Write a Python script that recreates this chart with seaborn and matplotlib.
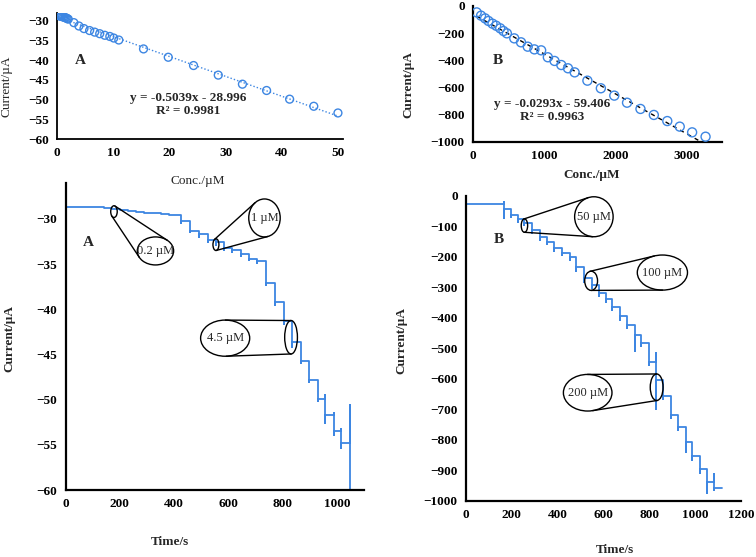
import numpy as np
import matplotlib
matplotlib.use("Agg")
import matplotlib.pyplot as plt
from matplotlib.patches import Ellipse
import seaborn as sns

# ---------- DATA ----------
# calibration A (top left)
conc_a = [0.2, 0.4, 0.6, 0.8, 1.0, 1.2, 1.4, 1.6, 1.8, 2.0,
          3.0, 3.9, 4.8, 5.8, 6.7, 7.6, 8.5, 9.4, 10.1, 11.0,
          15.4, 19.8, 24.3, 28.7, 33.0, 37.3, 41.4, 45.7, 50.0]
current_a = [-28.65, -28.75, -28.85, -28.9, -29.0, -29.1, -29.2, -29.3, -29.45, -29.6,
             -30.5, -31.35, -32.0, -32.5, -32.9, -33.3, -33.7, -34.0, -34.4, -34.9,
             -37.16, -39.27, -41.37, -43.8, -46.1, -47.7, -49.9, -51.7, -53.4]
fit_a = (-0.5039, -28.996)
eq_a = ["y = -0.5039x - 28.996", "R² = 0.9981"]

# calibration B (top right)
conc_b = [52, 113, 170, 217, 274, 325, 382, 429, 476, 580, 675, 769, 863, 958, 1052,
          1146, 1241, 1335, 1429, 1608, 1797, 1986, 2165, 2354, 2542, 2731, 2906, 3080, 3269]
current_b = [-47, -71, -91, -110, -130, -145, -164, -184, -201, -238, -267, -299, -319, -326,
             -377, -404, -434, -458, -488, -549, -605, -659, -711, -757, -801, -846, -887,
             -929, -961]
fit_b = (-0.293, -59.406)
eq_b = ["y = -0.0293x - 59.406", "R² = 0.9963"]

# amperometric trace A (bottom left): step times, levels, transient extremes
a_start = -28.65
a_step_t = [110, 140, 170, 200, 230, 260, 290, 320, 350, 380,
            425, 459, 493, 523, 554, 585, 615, 646, 676, 707,
            740, 772, 804, 835, 866, 897, 929, 958, 990, 1017, 1048]
a_level = [-28.73, -28.83, -28.92, -29.0, -29.1, -29.2, -29.3, -29.4, -29.5, -29.6,
           -30.25, -31.3, -31.7, -32.3, -32.6, -33.2, -33.5, -33.9, -34.4, -34.66,
           -37.05, -39.25, -41.3, -43.65, -45.7, -47.8, -49.9, -51.7, -53.5, -54.85, -60.0]
a_hi = [-28.73, -28.83, -28.92, -29.0, -29.1, -29.2, -29.3, -29.4, -29.5, -29.6,
        -29.6, -30.25, -31.3, -31.7, -32.3, -32.6, -33.2, -33.5, -33.9, -34.4,
        -34.66, -37.05, -39.25, -41.3, -43.65, -45.7, -47.8, -49.5, -51.5, -53.2, -50.6]
a_lo = [-28.73, -28.83, -28.92, -29.0, -29.1, -29.2, -29.3, -29.4, -29.5, -29.6,
        -30.5, -31.5, -32.0, -32.6, -32.9, -33.4, -33.7, -34.1, -34.6, -34.9,
        -37.3, -39.5, -41.6, -44.2, -46.0, -48.1, -50.2, -52.6, -53.9, -55.3, -60.0]
a_end = 1048

# amperometric trace B (bottom right)
b_start = -27
b_step_t = [166, 196, 225, 254, 288, 321, 353, 385, 419, 453, 482, 517, 550, 580, 609,
            638, 672, 704, 736, 765, 798, 831, 861, 893, 927, 959, 988, 1022, 1051, 1083]
b_level = [-45, -62, -78, -89, -113, -137, -151, -173, -187, -202, -235, -271, -293, -320,
           -340, -364, -395, -424, -457, -484, -544, -604, -657, -719, -757, -807, -854,
           -897, -938, -958]
b_hi = [-20, -45, -62, -78, -89, -113, -137, -151, -173, -187, -202, -235, -271, -293,
        -320, -340, -364, -395, -424, -457, -484, -517, -604, -657, -719, -757, -807,
        -854, -897, -914]
b_lo = [-74, -70, -86, -97, -122, -146, -160, -182, -196, -212, -246, -282, -303, -330,
        -350, -374, -406, -434, -509, -494, -556, -699, -668, -730, -768, -840, -865,
        -908, -976, -965]
b_end = 1115

# zoom call-outs: (t, current, width, height) of small and big ellipse, label
callouts_a = [((178, -29.2, 24, 1.3), (331, -33.55, 134, 3.1), "0.2 µM"),
              ((554, -32.85, 22, 1.3), (733, -29.9, 116, 4.2), "1 µM"),
              ((831, -43.1, 47, 3.7), (588, -43.2, 181, 4.0), "4.5 µM")]
callouts_b = [((255, -98, 28, 44), (558, -69, 168, 131), "50 µM"),
              ((546, -279, 56, 63), (857, -252, 219, 115), "100 µM"),
              ((832, -628, 56, 87), (531, -646, 212, 120), "200 µM")]

BLUE = "#3d86e2"


def build_trace(start, step_t, level, hi, lo, t_end):
    t = [0]
    y = [start]
    prev = start
    for i, ts in enumerate(step_t):
        t += [ts, ts, ts, ts]
        y += [prev, hi[i], lo[i], level[i]]
        prev = level[i]
        nxt = step_t[i + 1] if i + 1 < len(step_t) else t_end
        if nxt > ts:
            t.append(nxt)
            y.append(prev)
    return np.array(t, float), np.array(y, float)


def support(c, a, b, n):
    s = np.sqrt(a * a * n[0] ** 2 + b * b * n[1] ** 2)
    return c + np.array([a * a * n[0], b * b * n[1]]) / s


def callout(ax, small, big, label):
    for (cx, cy, w, h), face in ((big, "white"), (small, "none")):
        ax.add_patch(Ellipse((cx, cy), w, h, facecolor=face, edgecolor="black",
                             lw=1.0, zorder=4 if face == "white" else 5))
    ax.text(big[0], big[1], label, ha="center", va="center", fontsize=9, zorder=6)
    # outer tangent lines, worked out in display pixels
    tr = ax.transData
    ells = []
    for cx, cy, w, h in (small, big):
        c = tr.transform((cx, cy))
        e = tr.transform((cx + w / 2, cy + h / 2))
        ells.append((c, abs(e[0] - c[0]), abs(e[1] - c[1])))
    (c1, a1, b1), (c2, a2, b2) = ells
    d = (c2 - c1) / np.linalg.norm(c2 - c1)
    for sign in (1, -1):
        n = sign * np.array([-d[1], d[0]])
        for _ in range(30):
            p1 = support(c1, a1, b1, n)
            p2 = support(c2, a2, b2, n)
            u = (p2 - p1) / np.linalg.norm(p2 - p1)
            n_new = np.array([-u[1], u[0]])
            if np.dot(n_new, n) < 0:
                n_new = -n_new
            n = n_new
        pts = tr.inverted().transform([p1, p2])
        ax.plot(pts[:, 0], pts[:, 1], color="black", lw=1.0, zorder=5)


def style_axes(ax, lw):
    for s in ("top", "right"):
        ax.spines[s].set_visible(False)
    for s in ("left", "bottom"):
        ax.spines[s].set_linewidth(lw)
        ax.spines[s].set_color("black")
    ax.tick_params(direction="out", length=4, width=lw, labelsize=9.5, pad=2, colors="black")
    for lab in ax.get_xticklabels() + ax.get_yticklabels():
        lab.set_fontweight("bold")


# ---------- PLOT ----------
sns.set_style("white")
plt.rcParams["font.family"] = ["Liberation Serif", "DejaVu Serif"]

W, H = 756, 557
fig = plt.figure(figsize=(W / 100, H / 100), dpi=100)


def px_axes(x0, y0, x1, y1):
    return fig.add_axes([x0 / W, 1 - y1 / H, (x1 - x0) / W, (y1 - y0) / H])


def px_text(x, y, s, **kw):
    fig.text(x / W, 1 - y / H, s, ha="center", va="center", **kw)


# top left
ax1 = px_axes(57, 12.8, 343, 139)
sns.scatterplot(x=conc_a, y=current_a, ax=ax1, marker="o", s=32,
                facecolor="none", edgecolor=BLUE, linewidth=1.0, zorder=3)
xf = np.array([0, 50])
ax1.plot(xf, fit_a[0] * xf + fit_a[1], ls=(0, (1, 1.5)), color=BLUE, lw=1.0, zorder=2)
ax1.set_xlim(0, 50.9)
ax1.set_ylim(-60, -28)
ax1.set_xticks(range(0, 51, 10))
ax1.set_yticks(range(-60, -29, 5))
style_axes(ax1, 1.3)
ax1.text(4.1, -40.2, "A", fontsize=11, fontweight="bold", ha="center", va="center")
ax1.text(23.4, -49.6, eq_a[0], fontsize=9.5, fontweight="bold", ha="center", va="center")
ax1.text(23.4, -53.0, eq_a[1], fontsize=9.5, fontweight="bold", ha="center", va="center")
px_text(7, 86, "Current/µA", rotation=90, fontsize=9.5)
px_text(198, 181, "Conc./µM", fontsize=9.5)

# top right
ax2 = px_axes(473, 6, 722, 142)
sns.scatterplot(x=conc_b, y=current_b, ax=ax2, marker="o", s=42,
                facecolor="none", edgecolor=BLUE, linewidth=1.0, zorder=3)
xf = np.array([50, 3300])
ax2.plot(xf, fit_b[0] * xf + fit_b[1], ls=(0, (3, 3)), color="black", lw=1.0, zorder=2)
ax2.set_xlim(0, 3500)
ax2.set_ylim(-1000, 0)
ax2.set_xticks(range(0, 3001, 1000))
ax2.set_yticks(range(-1000, 1, 200))
style_axes(ax2, 1.6)
ax2.text(354, -402, "B", fontsize=11, fontweight="bold", ha="center", va="center")
ax2.text(1118, -717, eq_b[0], fontsize=9.5, fontweight="bold", ha="center", va="center")
ax2.text(1118, -815, eq_b[1], fontsize=9.5, fontweight="bold", ha="center", va="center")
px_text(408, 85, "Current/µA", rotation=90, fontsize=9.5, fontweight="bold")
px_text(592, 175, "Conc./µM", fontsize=9.5, fontweight="bold")

# bottom left
ax3 = px_axes(65.7, 182.7, 364, 490)
ta, ya = build_trace(a_start, a_step_t, a_level, a_hi, a_lo, a_end)
sns.lineplot(x=ta, y=ya, ax=ax3, sort=False, estimator=None, color=BLUE, lw=1.3)
ax3.set_xlim(0, 1100)
ax3.set_ylim(-60, -26)
ax3.set_xticks(range(0, 1001, 200))
ax3.set_yticks(range(-60, -29, 5))
style_axes(ax3, 1.6)
ax3.text(83, -32.6, "A", fontsize=11, fontweight="bold", ha="center", va="center")
for small, big, label in callouts_a:
    callout(ax3, small, big, label)
px_text(9, 339, "Current/µA", rotation=90, fontsize=9.5, fontweight="bold")
px_text(170, 542, "Time/s", fontsize=9.5, fontweight="bold")

# bottom right
ax4 = px_axes(466, 195.7, 741, 500.7)
tb, yb = build_trace(b_start, b_step_t, b_level, b_hi, b_lo, b_end)
sns.lineplot(x=tb, y=yb, ax=ax4, sort=False, estimator=None, color=BLUE, lw=1.3)
ax4.set_xlim(0, 1200)
ax4.set_ylim(-1000, 0)
ax4.set_xticks(range(0, 1201, 200))
ax4.set_yticks(range(-1000, 1, 100))
style_axes(ax4, 1.6)
ax4.text(142, -145, "B", fontsize=11, fontweight="bold", ha="center", va="center")
for small, big, label in callouts_b:
    callout(ax4, small, big, label)
px_text(401, 340, "Current/µA", rotation=90, fontsize=9.5, fontweight="bold")
px_text(615, 550, "Time/s", fontsize=9.5, fontweight="bold")

for ax in (ax1, ax2, ax3, ax4):
    ax.set_xlabel("")
    ax.set_ylabel("")
    ax.patch.set_alpha(0)

fig.savefig("out.png", dpi=100)
